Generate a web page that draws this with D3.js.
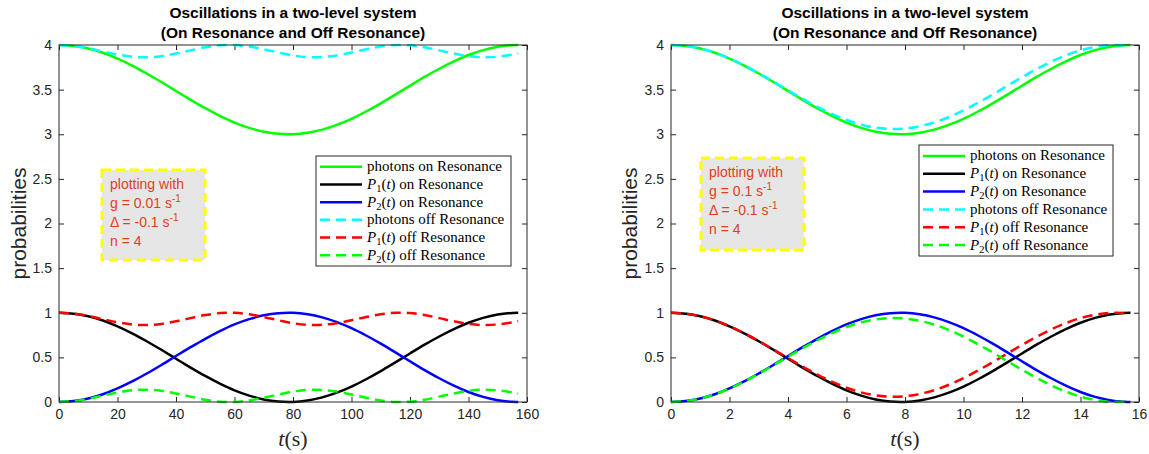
<!DOCTYPE html>
<html>
<meta charset="utf-8">
<script src="https://d3js.org/d3.v7.min.js"></script>
<style>
  body { margin: 0; background: #fff; }
  text { font-family: "Liberation Sans", Arial, sans-serif; }
  .tex { font-family: "Liberation Serif", "Times New Roman", serif; }
</style>
<body>
<div id="vis"></div>
<script>
// ---- left panel (g = 0.01) ----
var tLeft = [0,5,10,15,20,25,30,35,40,45,50,55,60,65,70,75,80,85,90,95,100,105,110,115,120,125,130,135,140,145,150,155,157];
var photonsOnLeft = [4.000,3.990,3.961,3.913,3.848,3.770,3.681,3.585,3.485,3.386,3.292,3.206,3.131,3.072,3.029,3.005,3.001,3.017,3.052,3.105,3.173,3.255,3.346,3.444,3.544,3.642,3.734,3.817,3.888,3.943,3.980,3.998,4.000];
var p1OnLeft = [1.000,0.990,0.961,0.913,0.848,0.770,0.681,0.585,0.485,0.386,0.292,0.206,0.131,0.072,0.029,0.005,0.001,0.017,0.052,0.105,0.173,0.255,0.346,0.444,0.544,0.642,0.734,0.817,0.888,0.943,0.980,0.998,1.000];
var p2OnLeft = [0.000,0.010,0.039,0.087,0.152,0.230,0.319,0.415,0.515,0.614,0.708,0.794,0.869,0.928,0.971,0.995,0.999,0.983,0.948,0.895,0.827,0.745,0.654,0.556,0.456,0.358,0.266,0.183,0.112,0.057,0.020,0.002,0.000];
var photonsOffLeft = [4.000,3.990,3.964,3.928,3.893,3.869,3.862,3.875,3.904,3.940,3.974,3.996,3.999,3.983,3.952,3.916,3.883,3.865,3.865,3.883,3.916,3.952,3.983,3.999,3.996,3.974,3.940,3.904,3.875,3.862,3.869,3.893,3.906];
var p1OffLeft = [1.000,0.990,0.964,0.928,0.893,0.869,0.862,0.875,0.904,0.940,0.974,0.996,0.999,0.983,0.952,0.916,0.883,0.865,0.865,0.883,0.916,0.952,0.983,0.999,0.996,0.974,0.940,0.904,0.875,0.862,0.869,0.893,0.906];
var p2OffLeft = [0.000,0.010,0.036,0.072,0.107,0.131,0.138,0.125,0.096,0.060,0.026,0.004,0.001,0.017,0.048,0.084,0.117,0.135,0.135,0.117,0.084,0.048,0.017,0.001,0.004,0.026,0.060,0.096,0.125,0.138,0.131,0.107,0.094];

// ---- right panel (g = 0.1) ----
var tRight = [0,0.5,1,1.5,2,2.5,3,3.5,4,4.5,5,5.5,6,6.5,7,7.5,8,8.5,9,9.5,10,10.5,11,11.5,12,12.5,13,13.5,14,14.5,15,15.5,15.708];
var photonsOnRight = [4.000,3.990,3.961,3.913,3.848,3.770,3.681,3.585,3.485,3.386,3.292,3.206,3.131,3.072,3.029,3.005,3.001,3.017,3.052,3.105,3.173,3.255,3.346,3.444,3.544,3.642,3.734,3.817,3.888,3.943,3.980,3.998,4.000];
var p1OnRight = [1.000,0.990,0.961,0.913,0.848,0.770,0.681,0.585,0.485,0.386,0.292,0.206,0.131,0.072,0.029,0.005,0.001,0.017,0.052,0.105,0.173,0.255,0.346,0.444,0.544,0.642,0.734,0.817,0.888,0.943,0.980,0.998,1.000];
var p2OnRight = [0.000,0.010,0.039,0.087,0.152,0.230,0.319,0.415,0.515,0.614,0.708,0.794,0.869,0.928,0.971,0.995,0.999,0.983,0.948,0.895,0.827,0.745,0.654,0.556,0.456,0.358,0.266,0.183,0.112,0.057,0.020,0.002,0.000];
var photonsOffRight = [4.000,3.990,3.961,3.913,3.849,3.771,3.684,3.589,3.493,3.397,3.308,3.228,3.160,3.108,3.074,3.059,3.065,3.090,3.133,3.193,3.268,3.354,3.446,3.543,3.639,3.730,3.813,3.884,3.940,3.978,3.998,3.997,3.991];
var p1OffRight = [1.000,0.990,0.961,0.913,0.849,0.771,0.684,0.589,0.493,0.397,0.308,0.228,0.160,0.108,0.074,0.059,0.065,0.090,0.133,0.193,0.268,0.354,0.446,0.543,0.639,0.730,0.813,0.884,0.940,0.978,0.998,0.997,0.991];
var p2OffRight = [0.000,0.010,0.039,0.087,0.151,0.229,0.316,0.411,0.507,0.603,0.692,0.772,0.840,0.892,0.926,0.941,0.935,0.910,0.867,0.807,0.732,0.646,0.554,0.457,0.361,0.270,0.187,0.116,0.060,0.022,0.002,0.003,0.009];

// ticks and labels
var xTicksLeft = [0,20,40,60,80,100,120,140,160];
var xTicksRight = [0,2,4,6,8,10,12,14,16];
var yTicks = [0,0.5,1,1.5,2,2.5,3,3.5,4];
var titleLines = ["Oscillations in a two-level system", "(On Resonance and Off Resonance)"];
var seriesNames = ["photons on Resonance", "P1 on Resonance", "P2 on Resonance",
                   "photons off Resonance", "P1 off Resonance", "P2 off Resonance"];
var seriesColors = ["#00ff00", "#000000", "#0000ff", "#00ffff", "#ff0000", "#00ff00"];
var seriesDashed = [false, false, false, true, true, true];
var annotLeft = [["plotting with"], ["g = 0.01 s", "-1"], ["\u0394 = -0.1 s", "-1"], ["n = 4"]];
var annotRight = [["plotting with"], ["g = 0.1 s", "-1"], ["\u0394 = -0.1 s", "-1"], ["n = 4"]];

var W = 1149, H = 454;
var axisColor = "#262626";

var svg = d3.select("#vis").append("svg")
  .attr("width", W).attr("height", H);

var panels = [
  { x0: 59, x1: 527, xMax: 160, xTicks: xTicksLeft, t: tLeft,
    series: [photonsOnLeft, p1OnLeft, p2OnLeft, photonsOffLeft, p1OffLeft, p2OffLeft],
    annot: annotLeft, box: {x: 102, y: 170, w: 103, h: 90}, ylabX: 19,
    legend: {x: 316, y: 156, w: 195, h: 110} },
  { x0: 671, x1: 1139, xMax: 16, xTicks: xTicksRight, t: tRight,
    series: [photonsOnRight, p1OnRight, p2OnRight, photonsOffRight, p1OffRight, p2OffRight],
    annot: annotRight, box: {x: 701, y: 158, w: 103, h: 92}, ylabX: 630,
    legend: {x: 919, y: 145, w: 194, h: 111} }
];

var yTop = 45, yBot = 402;

panels.forEach(drawPanel);

function drawPanel(p) {
  var x = d3.scaleLinear().domain([0, p.xMax]).range([p.x0, p.x1]);
  var y = d3.scaleLinear().domain([0, 4]).range([yBot, yTop]);
  var g = svg.append("g");

  // axes (ticks pointing inward, like MATLAB)
  var tickStyle = function(sel) {
    sel.selectAll("path").remove();
    sel.selectAll("line").attr("stroke", axisColor);
    sel.selectAll("text").attr("fill", axisColor).style("font-size", "14px")
      .style("font-family", '"Liberation Sans", Arial, sans-serif');
  };
  g.append("g").attr("transform", "translate(0," + yBot + ")")
    .call(d3.axisBottom(x).tickValues(p.xTicks).tickSize(-5).tickPadding(7).tickFormat(d3.format("~g")))
    .call(tickStyle);
  g.append("g").attr("transform", "translate(0," + yTop + ")")
    .call(d3.axisTop(x).tickValues(p.xTicks).tickSize(-5).tickFormat(""))
    .call(tickStyle);
  g.append("g").attr("transform", "translate(" + p.x0 + ",0)")
    .call(d3.axisLeft(y).tickValues(yTicks).tickSize(-5).tickPadding(7).tickFormat(d3.format("~g")))
    .call(tickStyle);
  g.append("g").attr("transform", "translate(" + p.x1 + ",0)")
    .call(d3.axisRight(y).tickValues(yTicks).tickSize(-5).tickFormat(""))
    .call(tickStyle);

  // lines
  var line = d3.line()
    .x(function(d) { return x(d[0]); })
    .y(function(d) { return y(d[1]); })
    .curve(d3.curveCatmullRom);
  p.series.forEach(function(vals, i) {
    g.append("path")
      .datum(vals.map(function(v, j) { return [p.t[j], v]; }))
      .attr("d", line)
      .attr("fill", "none")
      .attr("stroke", seriesColors[i])
      .attr("stroke-width", 2.5)
      .attr("stroke-dasharray", seriesDashed[i] ? "10,6" : null);
  });

  // box
  g.append("rect")
    .attr("x", p.x0).attr("y", yTop)
    .attr("width", p.x1 - p.x0).attr("height", yBot - yTop)
    .attr("fill", "none").attr("stroke", axisColor).attr("stroke-width", 1);

  // title
  var cx = (p.x0 + p.x1) / 2;
  titleLines.forEach(function(s, i) {
    g.append("text").attr("x", cx).attr("y", 18 + i * 20)
      .attr("text-anchor", "middle")
      .style("font-size", "15.5px").style("font-weight", "bold")
      .attr("fill", "#000").text(s);
  });

  // axis labels
  g.append("text")
    .attr("transform", "translate(" + (p.ylabX + 7) + "," + ((yTop + yBot) / 2) + ") rotate(-90)")
    .attr("text-anchor", "middle")
    .style("font-size", "21px").attr("fill", axisColor)
    .text("probabilities");
  var xl = g.append("text").attr("class", "tex")
    .attr("x", cx).attr("y", 446)
    .attr("text-anchor", "middle")
    .style("font-size", "22px").attr("fill", axisColor);
  xl.append("tspan").style("font-style", "italic").text("t");
  xl.append("tspan").text("(s)");

  // annotation box
  g.append("rect")
    .attr("x", p.box.x).attr("y", p.box.y)
    .attr("width", p.box.w).attr("height", p.box.h)
    .attr("fill", "#e6e6e6").attr("stroke", "#ffff00")
    .attr("stroke-width", 3).attr("stroke-dasharray", "9,5");
  p.annot.forEach(function(parts, i) {
    var tx = g.append("text")
      .attr("x", p.box.x + 8).attr("y", p.box.y + 19 + i * 19)
      .style("font-size", "14px").attr("fill", "#e0401c");
    tx.append("tspan").text(parts[0]);
    if (parts[1]) {
      tx.append("tspan").attr("dy", -6).style("font-size", "10px").text(parts[1]);
    }
  });

  // legend
  var L = p.legend;
  g.append("rect")
    .attr("x", L.x).attr("y", L.y).attr("width", L.w).attr("height", L.h)
    .attr("fill", "#fff").attr("stroke", axisColor).attr("stroke-width", 1);
  var rowH = (L.h - 4) / 6;
  seriesNames.forEach(function(name, i) {
    var ry = L.y + 2 + rowH * (i + 0.5);
    g.append("line")
      .attr("x1", L.x + 4).attr("x2", L.x + 46)
      .attr("y1", ry).attr("y2", ry)
      .attr("stroke", seriesColors[i]).attr("stroke-width", 2.5)
      .attr("stroke-dasharray", seriesDashed[i] ? "10,6" : null);
    var tx = g.append("text").attr("class", "tex")
      .attr("x", L.x + 51).attr("y", ry + 4.5)
      .style("font-size", "15px").attr("fill", "#000");
    var m = name.match(/^P(\d) (.*)$/);
    if (m) {
      tx.append("tspan").style("font-style", "italic").text("P");
      tx.append("tspan").attr("dy", 3).style("font-size", "10.5px").text(m[1]);
      tx.append("tspan").attr("dy", -3).text("(");
      tx.append("tspan").style("font-style", "italic").text("t");
      tx.append("tspan").text(") " + m[2]);
    } else {
      tx.text(name);
    }
  });
}
</script>
</body>
</html>
